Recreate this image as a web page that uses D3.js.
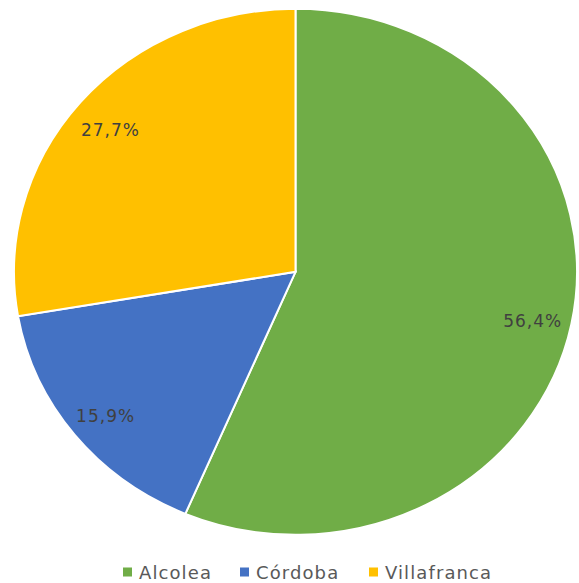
<!DOCTYPE html>
<html>
<head>
<meta charset="utf-8">
<script src="https://cdn.jsdelivr.net/npm/d3@7"></script>
<style>
  body { margin: 0; background: #fff; }
  svg { display: block; }
  text { font-family: "DejaVu Sans", sans-serif; }
</style>
</head>
<body>
<script>
const width = 579;
const height = 583;

const categories = ['Alcolea', 'Córdoba', 'Villafranca'];
const values = [56.4, 15.9, 27.7];
const colors = ['#70ad47', '#4472c4', '#ffc000'];

const cx = 295.5, cy = 271.8;
const ry = 263, rx = 281.5;
const sx = rx / ry;

const svg = d3.select('body')
    .append('svg')
    .attr('width', width)
    .attr('height', height);

const pie = d3.pie().sort(null).value(d => d.value);
const arcs = pie(categories.map((c, i) => ({ name: c, value: values[i] })));

const arc = d3.arc().innerRadius(0).outerRadius(ry);
const labelArc = d3.arc().innerRadius(ry * 0.86).outerRadius(ry * 0.86);

const g = svg.append('g')
    .attr('transform', `translate(${cx},${cy}) scale(${sx},1)`);

g.selectAll('path')
    .data(arcs)
    .join('path')
    .attr('d', arc)
    .attr('fill', (d, i) => colors[i])
    .attr('stroke', '#fff')
    .attr('stroke-width', 2)
    .attr('vector-effect', 'non-scaling-stroke');

svg.append('g')
    .selectAll('text')
    .data(arcs)
    .join('text')
    .attr('x', d => cx + labelArc.centroid(d)[0] * sx)
    .attr('y', d => cy + labelArc.centroid(d)[1] + 4)
    .attr('text-anchor', 'middle')
    .attr('dominant-baseline', 'central')
    .attr('font-size', 17)
    .attr('letter-spacing', 1)
    .attr('fill', '#404040')
    .text(d => d3.format('.1f')(d.data.value).replace('.', ',') + '%');

// legend
const legendX = [123, 240, 369];
const legend = svg.append('g')
    .selectAll('g')
    .data(categories)
    .join('g')
    .attr('transform', (d, i) => `translate(${legendX[i]},572)`);

legend.append('rect')
    .attr('x', 0)
    .attr('y', -4.5)
    .attr('width', 9)
    .attr('height', 9)
    .attr('fill', (d, i) => colors[i]);

legend.append('text')
    .attr('x', 16)
    .attr('y', 0)
    .attr('dominant-baseline', 'central')
    .attr('font-size', 18)
    .attr('letter-spacing', 1.1)
    .attr('fill', '#595959')
    .text(d => d);
</script>
</body>
</html>
